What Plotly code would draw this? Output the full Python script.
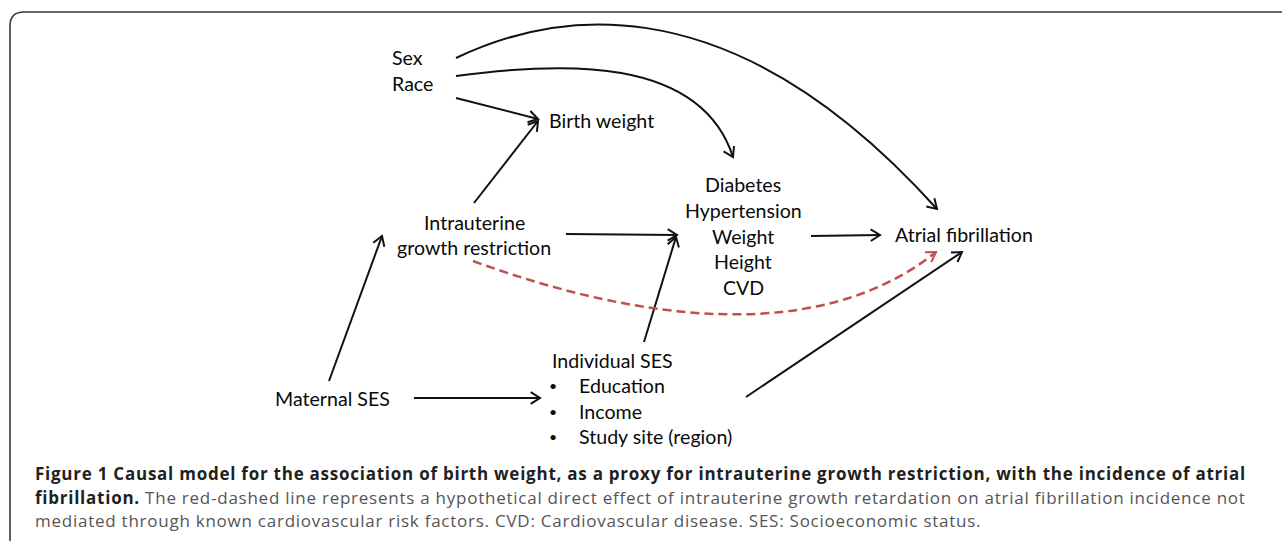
import numpy as np
import plotly.graph_objects as go

W, H = 1282, 541

# ---- diagram nodes (labels) ----
node_labels = ["Sex", "Race", "Birth weight", "Intrauterine", "growth restriction",
               "Diabetes", "Hypertension", "Weight", "Height", "CVD",
               "Atrial fibrillation", "Maternal SES", "Individual SES",
               "Education", "Income", "Study site (region)"]
node_x = [390, 390, 547, 474, 474, 743, 743, 743, 743, 743, 893, 273, 550, 577, 577, 577]
node_y = [57, 83, 120, 222, 247, 184, 210, 236, 261, 287, 234, 398, 360, 385, 411, 436]
node_align = ["left", "left", "left", "center", "center", "center", "center", "center",
              "center", "center", "left", "left", "left", "left", "left", "left"]
node_bullet = [False] * 13 + [True, True, True]
bullet_x = 553

# ---- straight arrows (start -> end) ----
arrow_from = [(456, 98), (474, 203), (329, 381), (566, 234), (644, 342),
              (811, 236), (414, 398), (746, 397)]
arrow_to = [(538, 119), (538, 121), (382, 236), (677, 235), (676, 237),
            (880, 235), (540, 398), (962, 252)]

# ---- curved arrows: cubic Bezier (P0, C1, C2, P3) ----
curves = [
    [(456, 58), (540, 18), (720, -32), (937, 209)],    # Sex -> Atrial fibrillation
    [(456, 76), (560, 62), (700, 55), (733, 157)],     # Race -> Diabetes block
    [(473, 261), (640, 322), (820, 345), (936, 252)],  # IUGR -> AF (hypothetical)
]
curve_color = ["#111111", "#111111", "#c0504d"]
curve_dash = ["solid", "solid", "9px,5px"]
curve_width = [2, 2, 2.5]

caption_line1 = ("Figure 1 Causal model for the association of birth weight, as a proxy for "
                 "intrauterine growth restriction, with the incidence of atrial")
caption_line2_bold = "fibrillation."
caption_line2 = (" The red-dashed line represents a hypothetical direct effect of intrauterine "
                 "growth retardation on atrial fibrillation incidence not")
caption_line3 = ("mediated through known cardiovascular risk factors. CVD: Cardiovascular "
                 "disease. SES: Socioeconomic status.")
caption_y = [473, 497, 520]
caption_x = 33

DIAG_FONT = "Lato"
DIAG_SIZE = 19.6
CAP_FONT = "Open Sans"
CAP_SIZE = 17
CAP_SPACING = "0.75px"


def bez(p, t):
    p = np.array(p, dtype=float)
    return ((1 - t) ** 3) * p[0] + 3 * ((1 - t) ** 2) * t * p[1] + 3 * (1 - t) * t ** 2 * p[2] + t ** 3 * p[3]


def head(tip, frm, color, L=11, ang=32):
    tip = np.array(tip, float)
    frm = np.array(frm, float)
    d = tip - frm
    d = d / np.hypot(*d)
    a = np.radians(ang)
    out = []
    for s in (1, -1):
        c, sn = np.cos(s * a), np.sin(s * a)
        r = np.array([d[0] * c - d[1] * sn, d[0] * sn + d[1] * c])
        out.append(tip - L * r)
    path = f"M {out[0][0]:.1f},{out[0][1]:.1f} L {tip[0]:.1f},{tip[1]:.1f} L {out[1][0]:.1f},{out[1][1]:.1f}"
    return dict(type="path", path=path, xref="x", yref="y",
                line=dict(color=color, width=2))


fig = go.Figure()
shapes = []

# frame (rounded top-left corner, open to right/bottom)
shapes.append(dict(type="path", xref="x", yref="y",
                   path=f"M 10,{H + 5} L 10,26 Q 10,12 24,12 L {W + 5},12",
                   line=dict(color="#3a3a3a", width=1.6)))

for (x0, y0), (x1, y1) in zip(arrow_from, arrow_to):
    shapes.append(dict(type="line", xref="x", yref="y", x0=x0, y0=y0, x1=x1, y1=y1,
                       line=dict(color="#111111", width=2)))
    shapes.append(head((x1, y1), (x0, y0), "#111111"))

for pts, col, dsh, wd in zip(curves, curve_color, curve_dash, curve_width):
    (a, b, c, d) = pts
    path = f"M {a[0]},{a[1]} C {b[0]},{b[1]} {c[0]},{c[1]} {d[0]},{d[1]}"
    shapes.append(dict(type="path", xref="x", yref="y", path=path,
                       line=dict(color=col, width=wd, dash=dsh)))
    shapes.append(head(d, bez(pts, 0.88), col))

annotations = []
for lab, x, y, al, bl in zip(node_labels, node_x, node_y, node_align, node_bullet):
    annotations.append(dict(x=x, y=y, xref="x", yref="y", text=lab, showarrow=False,
                            xanchor=al, yanchor="middle",
                            font=dict(family=DIAG_FONT, size=DIAG_SIZE, color="#0a0a0a")))
    if bl:
        annotations.append(dict(x=bullet_x, y=y, xref="x", yref="y", text="•", showarrow=False,
                                xanchor="center", yanchor="middle",
                                font=dict(family=DIAG_FONT, size=14, color="#0a0a0a")))

sp = f"letter-spacing:{CAP_SPACING}"
cap_texts = [
    f"<span style='{sp}'><b>{caption_line1}</b></span>",
    f"<span style='{sp};color:#231f20'><b>{caption_line2_bold}</b></span>"
    f"<span style='{sp}'>{caption_line2}</span>",
    f"<span style='{sp}'>{caption_line3}</span>",
]
cap_colors = ["#231f20", "#555555", "#555555"]
for t, y, c in zip(cap_texts, caption_y, cap_colors):
    annotations.append(dict(x=caption_x, y=y, xref="x", yref="y", text=t, showarrow=False,
                            xanchor="left", yanchor="middle",
                            font=dict(family=CAP_FONT, size=CAP_SIZE, color=c)))

fig.update_layout(
    width=W, height=H, autosize=False,
    margin=dict(l=0, r=0, t=0, b=0),
    paper_bgcolor="white", plot_bgcolor="white",
    xaxis=dict(range=[0, W], visible=False, fixedrange=True),
    yaxis=dict(range=[H, 0], visible=False, fixedrange=True),
    shapes=shapes, annotations=annotations, showlegend=False,
)

fig.write_html("out.html", config={"displayModeBar": False},
               post_script="document.body.style.margin='0';document.body.style.overflow='hidden';")
